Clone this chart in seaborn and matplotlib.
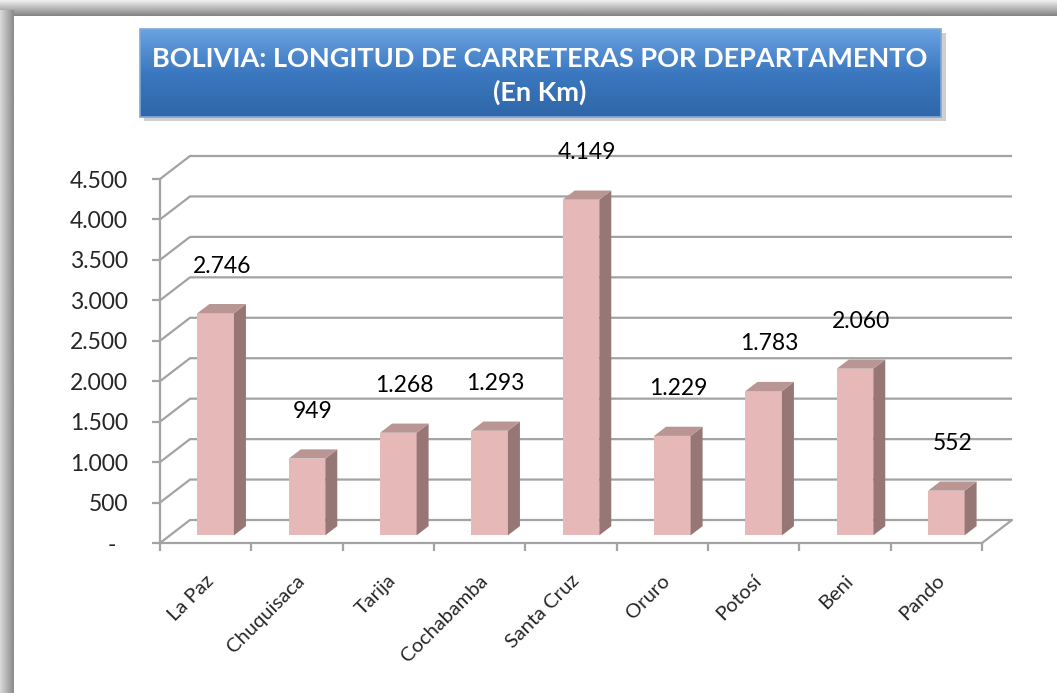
import numpy as np
import pandas as pd
import matplotlib.pyplot as plt
import seaborn as sns
from matplotlib.patches import Polygon, FancyBboxPatch
from matplotlib.colors import LinearSegmentedColormap
from matplotlib.transforms import offset_copy

# data
departamentos = ["La Paz", "Chuquisaca", "Tarija", "Cochabamba", "Santa Cruz",
                 "Oruro", "Potosí", "Beni", "Pando"]
longitud_km = [2746, 949, 1268, 1293, 4149, 1229, 1783, 2060, 552]
y_ticks = [0, 500, 1000, 1500, 2000, 2500, 3000, 3500, 4000, 4500]
y_tick_labels = ["-  ", "500", "1.000", "1.500", "2.000", "2.500", "3.000",
                 "3.500", "4.000", "4.500"]
titulo = "BOLIVIA: LONGITUD DE CARRETERAS POR DEPARTAMENTO\n(En Km)"

df = pd.DataFrame({"Departamento": departamentos, "Km": longitud_km})

sns.set_theme(style="white")
plt.rcParams["font.family"] = ["Lato", "DejaVu Sans"]

W, H = 1057, 693
fig = plt.figure(figsize=(W / 100, H / 100), dpi=100)
fig.patch.set_facecolor("white")

# background frame (gray shadow on top and left)
bg = fig.add_axes([0, 0, 1, 1], zorder=-10)
bg.set_xlim(0, W)
bg.set_ylim(H, 0)
bg.axis("off")
top_band = np.linspace(0.93, 0.52, 16).reshape(-1, 1)
bg.imshow(top_band, cmap="gray", vmin=0, vmax=1, aspect="auto",
          extent=(0, W, 16, 0), interpolation="bilinear")
left_band = np.linspace(0.85, 0.55, 14).reshape(1, -1)
bg.imshow(left_band, cmap="gray", vmin=0, vmax=1, aspect="auto",
          extent=(0, 14, H, 10), interpolation="bilinear")

# title box with gradient
shadow = FancyBboxPatch((144, 33), 802, 88, boxstyle="square,pad=0",
                        facecolor="#b0b0b0", edgecolor="none", alpha=0.6)
bg.add_patch(shadow)
grad = np.linspace(0, 1, 100).reshape(-1, 1)
blue = LinearSegmentedColormap.from_list("b", ["#6aa2e0", "#3b78c0", "#2f67a8"])
im = bg.imshow(grad, cmap=blue, aspect="auto", extent=(140, 941, 117, 29),
               interpolation="bilinear", zorder=2)
box = FancyBboxPatch((140, 29), 801, 88, boxstyle="square,pad=0",
                     facecolor="none", edgecolor="#7fa8d8", lw=1.2, zorder=3)
bg.add_patch(box)
im.set_clip_path(box)
bg.text(540, 76, titulo, ha="center", va="center", color="white",
        fontsize=19.5, fontweight="bold", linespacing=1.4, zorder=4)

# main axes = front plane of the 3D chart
ax = fig.add_axes([160 / W, 1 - 543 / H, 822 / W, 364 / H])
ax.set_xlim(-0.5, len(departamentos) - 0.5)
ax.set_ylim(0, 4500)

cat_px = 822 / len(departamentos)
val_px = 364 / 4500
DX, DY = 30 / cat_px, 23 / val_px          # wall depth in data units
bar_off = (DX / 3, DY / 3)
side = (DX * 0.4, DY * 0.4)

grid_c = "#a3a3a3"
x0, x1 = -0.5, len(departamentos) - 0.5
for v in y_ticks:
    ax.plot([x0, x0 + DX, x1 + DX], [v, v + DY, v + DY], color=grid_c,
            lw=1.6, clip_on=False, zorder=1, solid_capstyle="butt")
ax.plot([x1, x1 + DX], [0, DY], color=grid_c, lw=1.6, clip_on=False, zorder=1)

sns.barplot(data=df, x="Departamento", y="Km", color="#e6b9b8", width=0.4,
            saturation=1, ax=ax, zorder=3, edgecolor="none")

for p, v in zip(ax.patches, longitud_km):
    p.set_x(p.get_x() + bar_off[0])
    p.set_y(bar_off[1])
    p.set_clip_on(False)
    bx, by, bw, bh = p.get_x(), p.get_y(), p.get_width(), p.get_height()
    right = [(bx + bw, by), (bx + bw + side[0], by + side[1]),
             (bx + bw + side[0], by + bh + side[1]), (bx + bw, by + bh)]
    top = [(bx, by + bh), (bx + bw, by + bh),
           (bx + bw + side[0], by + bh + side[1]), (bx + side[0], by + bh + side[1])]
    ax.add_patch(Polygon(right, closed=True, facecolor="#977776",
                         edgecolor="none", zorder=3, clip_on=False))
    ax.add_patch(Polygon(top, closed=True, facecolor="#b99694",
                         edgecolor="none", zorder=3, clip_on=False))
    ax.text(bx + (bw + side[0]) / 2, by + bh + side[1] + 38 / val_px,
            f"{v:,}".replace(",", "."), ha="center", va="center",
            fontsize=16.5, color="black", zorder=5)

# axes styling
sns.despine(ax=ax, top=True, right=True)
for s in ["left", "bottom"]:
    ax.spines[s].set_color(grid_c)
    ax.spines[s].set_linewidth(1.6)
ax.set_yticks(y_ticks, y_tick_labels)
ax.tick_params(axis="y", length=6, width=1.6, color=grid_c, pad=17,
               labelsize=16.5, left=True)
ax.set_xticks(np.arange(len(departamentos) + 1) - 0.5, [""] * (len(departamentos) + 1))
ax.tick_params(axis="x", length=6, width=1.6, color=grid_c, bottom=True)
ax.set_xlabel("")
ax.set_ylabel("")
lab_tr = offset_copy(ax.transData, fig, x=5, y=-35, units="dots")
for i, name in enumerate(departamentos):
    ax.text(i, 0, name, transform=lab_tr, rotation=45, ha="right", va="center",
            rotation_mode="anchor", fontsize=14.5)

fig.savefig("out.png", dpi=100)
